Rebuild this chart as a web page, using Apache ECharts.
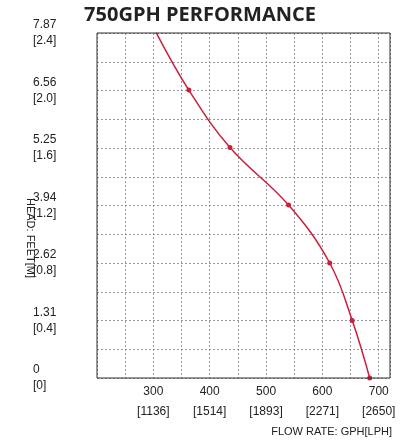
<!DOCTYPE html>
<html><head><meta charset="utf-8">
<script src="https://cdn.jsdelivr.net/npm/echarts@6/dist/echarts.min.js"></script>
<style>html,body{margin:0;background:#fff}#c{width:400px;height:443px}</style>
</head><body><div id="c"></div>
<script>
// flow in GPH, head in feet
const flow = [305, 363, 436, 540, 613, 653, 684];
const head = [7.87, 6.56, 5.25, 3.94, 2.62, 1.31, 0];
const xTicks = {300: '1136', 400: '1514', 500: '1893', 600: '2271', 700: '2650'};
const yTicks = [['0', '0'], ['1.31', '0.4'], ['2.62', '0.8'], ['3.94', '1.2'], ['5.25', '1.6'], ['6.56', '2.0'], ['7.87', '2.4']];

var chart = echarts.init(document.getElementById('c'));
chart.setOption({
    animation: false,
    title: {
        text: '750GPH PERFORMANCE', left: 'center', top: 0,
        textStyle: { fontSize: 20, fontWeight: 'bold', color: '#222', fontFamily: 'Open Sans' }
    },
    grid: { left: 97, right: 10, top: 33, bottom: 65 },
    xAxis: {
        type: 'value', min: 200, max: 720, interval: 50,
        axisLine: { show: false }, axisTick: { show: false },
        axisLabel: {
            color: '#222', fontSize: 12, lineHeight: 20, showMaxLabel: false, margin: 4,
            formatter: v => xTicks[v] ? v + '\n[' + xTicks[v] + ']' : ''
        },
        splitLine: { lineStyle: { type: [2, 2], color: '#999' } }
    },
    yAxis: {
        type: 'value', min: 0, max: 7.86, interval: 0.655,
        axisLine: { show: false }, axisTick: { show: false },
        axisLabel: {
            color: '#222', fontSize: 12, lineHeight: 16, align: 'left', margin: 64,
            padding: [12, 0, 0, 0],
            formatter: v => {
                const n = Math.round(v / 0.655);
                return n % 2 ? '' : yTicks[n / 2][0] + '\n[' + yTicks[n / 2][1] + ']';
            }
        },
        splitLine: { lineStyle: { type: [2, 2], color: '#999' } }
    },
    series: [{
        type: 'line', smooth: 0.4,
        data: flow.map((f, i) => [f, head[i]]),
        symbol: 'circle', symbolSize: 5,
        lineStyle: { color: '#cc1f3c', width: 1.5 },
        itemStyle: { color: '#cc1f3c' }
    }],
    graphic: [{
        type: 'rect', shape: { x: 97, y: 33, width: 293, height: 345 },
        style: { fill: 'none', stroke: '#333', lineWidth: 1 }, z: 10
    }, {
        type: 'text', x: 392, y: 426,
        style: { text: 'FLOW RATE: GPH[LPH]', fontSize: 11, fill: '#222', align: 'right', fontFamily: 'Liberation Sans' }
    }, {
        type: 'text', x: 30, y: 238, rotation: -Math.PI / 2,
        style: { text: 'HEAD: FEET[M]', fontSize: 11, fill: '#222', align: 'center', verticalAlign: 'middle', fontFamily: 'Liberation Sans' }
    }]
});
</script></body></html>
